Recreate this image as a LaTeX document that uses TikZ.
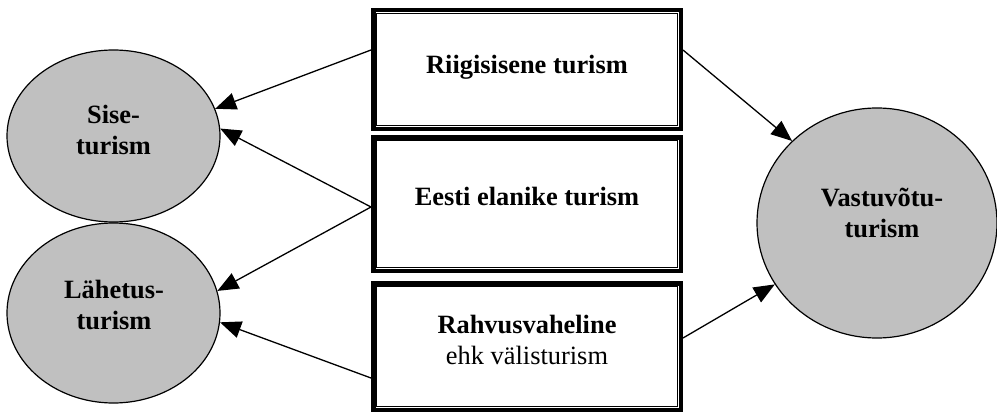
\documentclass[tikz,border=0pt]{standalone}
\usepackage{fontspec}
\setmainfont{Liberation Serif}
\usetikzlibrary{shapes.geometric,arrows.meta}
\definecolor{ovalgray}{RGB}{192,192,192}
\begin{document}
\begin{tikzpicture}[x=1pt,y=-1pt,
  outerbox/.style={draw, line width=4.5pt, minimum width=307.5pt, inner sep=0pt},
  innerline/.style={line width=1pt},
  oval/.style={ellipse, draw, line width=1.2pt, fill=ovalgray, inner sep=0pt},
  lbl/.style={font=\fontsize{26.4}{30.5}\selectfont\bfseries, align=center, anchor=base, inner sep=0pt},
  arr/.style={line width=1.3pt, -{Triangle[length=21pt,width=17pt]}}]
\useasboundingbox (0,0) rectangle (997,412);

% boxes
\node[outerbox, minimum height=118.5pt] (b1) at (527,69.5) {};
\node[outerbox, minimum height=133.5pt] (b2) at (527,204) {};
\node[outerbox, minimum height=126.5pt] (b3) at (527,346.5) {};
\foreach \b in {b1,b2,b3}
  \draw[innerline] ([xshift=5.35pt,yshift=-5.35pt]\b.north west) rectangle ([xshift=-5.35pt,yshift=5.35pt]\b.south east);

\node[lbl] (t1) at (527,74) {Riigisisene turism};
\node[lbl] (t2) at (527,205) {Eesti elanike turism};
\node[lbl] (t3) at (527,364) {Rahvusvaheline\\\normalfont ehk välisturism};

% ovals
\node[oval, minimum width=213pt, minimum height=172pt] (sise) at (113.5,136) {};
\node[oval, minimum width=213pt, minimum height=180pt] (lah) at (113.5,313) {};
\node[oval, minimum width=240pt, minimum height=230pt] (vast) at (877,223) {};

\node[lbl] (ts) at (113.5,154) {Sise-\\turism};
\node[lbl] (tl) at (114,329) {Lähetus-\\turism};
\node[lbl] (tv) at (882,237) {Vastuvõtu-\\turism};

% connectors
\draw[arr] ([yshift=19.5pt]b1.west) -- (sise.15.5);
\draw[arr] ([yshift=-3pt]b2.west) -- (sise.4);
\draw[arr] ([yshift=-3pt]b2.west) -- (lah.12.4);
\draw[arr] ([yshift=-31.5pt]b3.west) -- (lah.-5.4);
\draw[arr] ([yshift=19.5pt]b1.east) -- (vast.136.3);
\draw[arr] ([yshift=8.5pt]b3.east) -- (vast.211);
\end{tikzpicture}
\end{document}
